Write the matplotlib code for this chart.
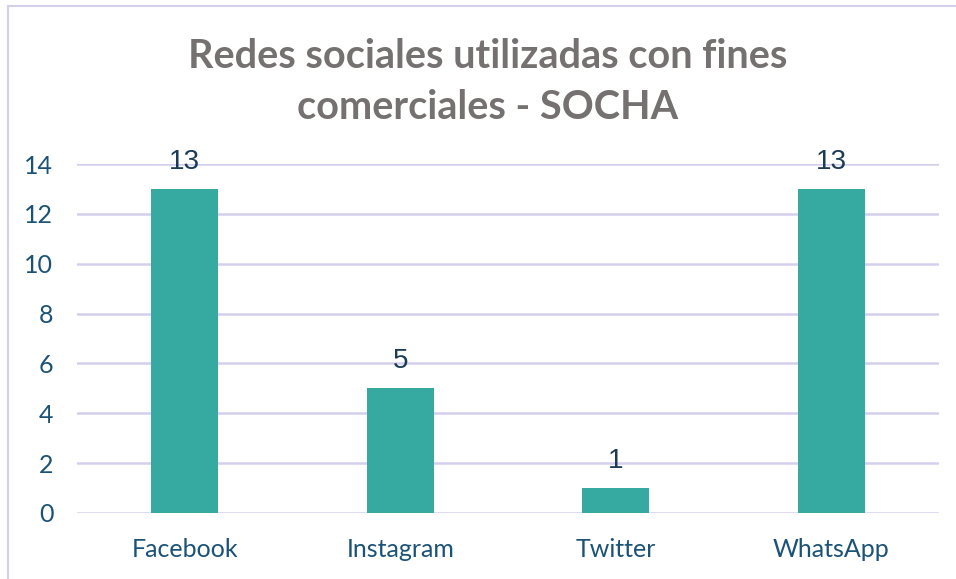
import matplotlib.pyplot as plt
from matplotlib.lines import Line2D
import numpy as np

categories = ['Facebook', 'Instagram', 'Twitter', 'WhatsApp']
values = [13, 5, 1, 13]
yticks = [0, 2, 4, 6, 8, 10, 12, 14]
title = 'Redes sociales utilizadas con fines\ncomerciales - SOCHA'

bar_color = '#36AAA0'
grid_color = '#D4CFEC'
label_color = '#1B5277'
value_color = '#1C3B57'
title_color = '#767171'

W, H = 956, 579
dpi = 100
fig = plt.figure(figsize=(W / dpi, H / dpi), dpi=dpi)
# plot area in pixels: x 77..939, y 164..513
ax = fig.add_axes([77 / W, 1 - 513 / H, (939 - 77) / W, (513 - 164) / H])

x = np.arange(len(categories))
ax.bar(x, values, width=0.31, color=bar_color, zorder=3)
ax.set_xlim(-0.5, len(categories) - 0.5)
ax.set_ylim(0, 14)
ax.set_yticks(yticks)
ax.set_xticks(x)
ax.set_xticklabels(categories)
ax.tick_params(length=0, labelsize=18, labelcolor=label_color)
ax.tick_params(axis='y', pad=17)
ax.tick_params(axis='x', pad=18)
for lab in ax.get_xticklabels() + ax.get_yticklabels():
    lab.set_family(['Lato', 'DejaVu Sans'])
ax.grid(axis='y', color=grid_color, linewidth=1.8, zorder=0)
for s in ax.spines.values():
    s.set_visible(False)

for xi, v in zip(x, values):
    ax.annotate(str(v), (xi, v), xytext=(0, 10), textcoords='offset points',
                ha='center', va='bottom', fontsize=20, color=value_color,
                family=['Liberation Sans', 'DejaVu Sans'], zorder=4)

fig.text(488 / W, 1 - 82 / H, title, ha='center', va='center', fontsize=28.5,
         fontweight='bold', color=title_color, linespacing=1.45,
         family=['Lato', 'DejaVu Sans'])

# chart frame (top and left edges)
fig.add_artist(Line2D([8 / W, 1], [1 - 6 / H, 1 - 6 / H], color=grid_color, lw=1.5))
fig.add_artist(Line2D([8 / W, 8 / W], [0, 1 - 6 / H], color=grid_color, lw=1.5))

fig.savefig('out.png', dpi=dpi)
